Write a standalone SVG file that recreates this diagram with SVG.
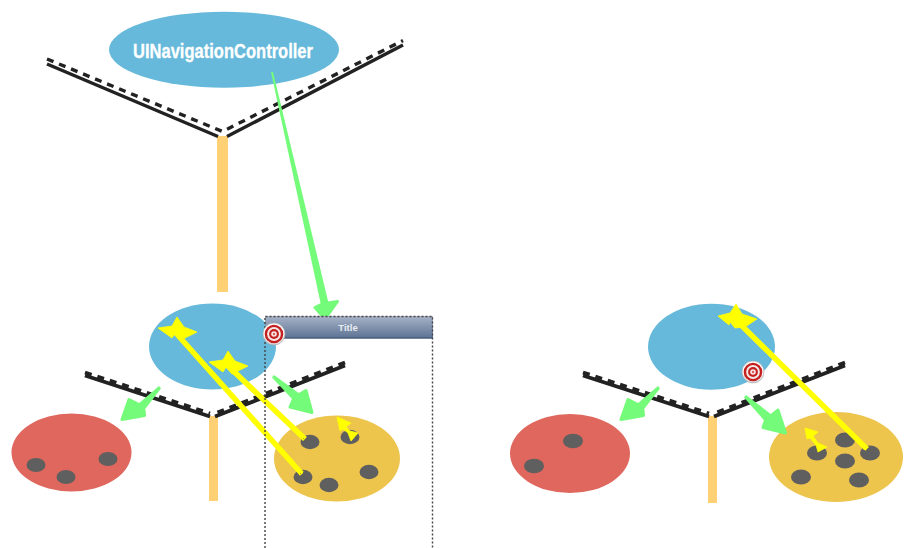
<svg xmlns="http://www.w3.org/2000/svg" width="907" height="548" viewBox="0 0 907 548">
<style>
.blue{fill:#66b9da}.red{fill:#df675d}.gold{fill:#edc44c}.dot{fill:#5f5f5f}
.bar{fill:#ffd074}
.solid{fill:none;stroke:#222;stroke-width:3.4}
.solid2{fill:none;stroke:#222;stroke-width:3.8}
.dash{fill:none;stroke:#222;stroke-width:3.4;stroke-dasharray:7 6}
.teeth{fill:none;stroke:#222;stroke-width:3.800;stroke-dasharray:7 6}
.green{fill:#73fb79;stroke:#73fb79;stroke-width:3;stroke-linejoin:round}
.shaft{fill:#73fb79}
.yl{stroke:#ff0;stroke-width:5.500;stroke-linecap:butt;fill:none;filter:url(#rough)}
.yh{fill:#ff0;stroke:#ff0;stroke-width:.8;stroke-linejoin:round}
.dotted{fill:none;stroke:#444;stroke-width:1.400;stroke-dasharray:2 2}
text{font-family:"Liberation Sans",Arial,sans-serif;font-weight:700;text-anchor:middle}
</style>
<defs>
<linearGradient id="tb" x1="0" y1="0" x2="0" y2="1"><stop offset="0" stop-color="#a8b3c8"/><stop offset="1" stop-color="#5d7394"/></linearGradient>
<radialGradient id="tw" cx=".5" cy=".4" r=".65"><stop offset=".7" stop-color="#fff"/><stop offset="1" stop-color="#b8b8b8"/></radialGradient>
<filter id="rough" x="-10%" y="-10%" width="120%" height="120%"><feTurbulence type="fractalNoise" baseFrequency="0.6" numOctaves="1" seed="3"/><feDisplacementMap in="SourceGraphic" scale="3"/></filter>
<g id="target">
<circle r="11" fill="url(#tw)" stroke="#aaa" stroke-width=".6"/>
<circle r="9.300" fill="#c4201f"/><circle r="6.900" fill="#f6e8e6"/><circle r="4.900" fill="#c4201f"/><circle r="2.800" fill="#f6e8e6"/><circle r="1.200" fill="#d9605c"/>
</g>
</defs>

<g id="node-nav-controller"><ellipse class="blue" cx="224" cy="49.7" rx="115" ry="38"/>
<text x="223" y="57.500" font-size="19.500" fill="#fff" stroke="#fff" stroke-width=".3" textLength="180" lengthAdjust="spacingAndGlyphs">UINavigationController</text></g>
<g id="node-left-blue"><ellipse class="blue" cx="212.5" cy="346.5" rx="63.5" ry="43"/></g>
<g id="node-left-red"><ellipse class="red" cx="71.5" cy="452.5" rx="60" ry="39"/>
<ellipse class="dot" cx="36" cy="465" rx="9.5" ry="7"/><ellipse class="dot" cx="66" cy="477" rx="9.5" ry="7"/><ellipse class="dot" cx="108" cy="459" rx="9.5" ry="7"/></g>
<g id="node-left-gold"><ellipse class="gold" cx="337" cy="458.5" rx="63" ry="43"/>
<ellipse class="dot" cx="310" cy="442" rx="9.5" ry="7.2"/><ellipse class="dot" cx="350" cy="437" rx="9.5" ry="7.2"/><ellipse class="dot" cx="369" cy="472" rx="9.5" ry="7.2"/><ellipse class="dot" cx="329" cy="485" rx="9.5" ry="7.2"/><ellipse class="dot" cx="303" cy="477" rx="9.5" ry="7.2"/></g>
<g id="node-right-blue"><ellipse class="blue" cx="711.5" cy="346.7" rx="63.5" ry="43"/></g>
<g id="node-right-red"><ellipse class="red" cx="570" cy="453.5" rx="60" ry="39.5"/>
<ellipse class="dot" cx="573" cy="441" rx="10" ry="7.3"/><ellipse class="dot" cx="534" cy="466" rx="10" ry="7.3"/></g>
<g id="node-right-gold"><ellipse class="gold" cx="836" cy="457" rx="67" ry="45"/>
<ellipse class="dot" cx="845" cy="440" rx="10" ry="7.5"/><ellipse class="dot" cx="817" cy="453" rx="10" ry="7.5"/><ellipse class="dot" cx="870" cy="453" rx="10" ry="7.5"/><ellipse class="dot" cx="845" cy="461" rx="10" ry="7.5"/><ellipse class="dot" cx="801" cy="477" rx="10" ry="7.5"/><ellipse class="dot" cx="859" cy="480" rx="10" ry="7.5"/></g>

<g id="connectors">
<rect class="bar" x="217" y="136" width="11" height="156" rx="1"/>
<path class="solid" d="M47 64L218 136.500M403 45L227 136.500"/>
<polyline class="dash" points="47,59 222.500,131.500 403,40.500"/>

<rect class="bar" x="209" y="416" width="9" height="85"/>
<path class="solid2" d="M85 375.500L210 416.500M345 365.500L215 416.500"/>
<path class="teeth" d="M85 372.500L210 413.500M345 362.500L215 413.500"/>

<rect class="bar" x="708" y="416" width="9" height="87"/>
<path class="solid2" d="M583 375.500L709 416.500M845 365.500L714 416.500"/>
<path class="teeth" d="M583 372.500L709 413.500M845 362.500L714 413.500"/>

<polygon class="shaft" points="271,72 273,72 328.500,303 321,305"/>
<polygon class="green" points="322,304 315,307.500 325,319 337.500,301.500 328,303"/>
<polygon class="shaft" points="159,386 161,388.500 144,410.500 138,404"/>
<polygon class="green" points="138,404 129,399.500 122,419.500 144.500,415.500 144,410.500"/>
<polygon class="shaft" points="274,375 272,377.500 293,400 300,394"/>
<polygon class="green" points="300,394 306,390.500 312,412.500 290,407 293,400"/>
<polygon class="shaft" points="658,386 660,388.500 643,410.500 637,404"/>
<polygon class="green" points="637,404 628,399.500 621,419.500 643.500,415.500 643,410.500"/>
<polygon class="shaft" points="746,395 744,397.500 765,421.500 772,415"/>
<polygon class="green" points="772,415 778,410 785.500,433 763,427.500 765,421.500"/>

<path class="yl" d="M302 474L175 332"/>
<polygon class="yh" points="158,328 172,326 177,317 184,327 197,332 181,340 175,333 172,338"/>
<path class="yl" d="M305 439L227 365"/>
<polygon class="yh" points="209,362 223,360 228,351 235,361 248,366 232,374 226,367 223,372"/>
<path class="yl" d="M867 449L738 322"/>
<polygon class="yh" points="718,316 730,313 736,304 742,314 757,319 745,327 735,328 730,322 729,325"/>
<polygon class="yh" points="337,417 351,423 346,427 350,431 358,433 351,441 348,433 343,429 340,431"/>
<polygon class="yh" points="805,428 818,432 813,436 818,443 827,447 818,452 816,445 810,438 807,439"/>
</g>

<g id="node-title-bar">
<rect x="265" y="316" width="168" height="22" fill="url(#tb)"/>
<rect x="265" y="337.500" width="168" height="1.200" fill="#3f5272"/>
<text x="348" y="331" font-size="9.500" fill="#e8ebf0">Title</text>
<path class="dotted" d="M265 548V316.500H432.500V548"/>
</g>
<g id="node-target-left"><use href="#target" x="274" y="334"/></g>
<g id="node-target-right"><use href="#target" x="753" y="372"/></g>
</svg>
